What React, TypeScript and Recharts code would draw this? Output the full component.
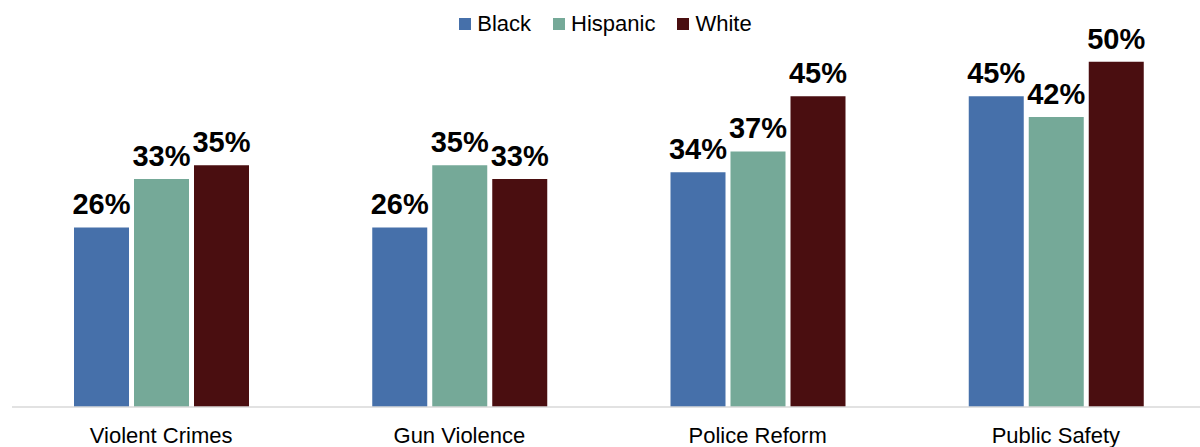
import { Bar, BarChart, LabelList, Legend, XAxis, YAxis } from 'recharts';

const CATEGORIES = ['Violent Crimes', 'Gun Violence', 'Police Reform', 'Public Safety'];
const BLACK = [26, 26, 34, 45];
const HISPANIC = [33, 35, 37, 42];
const WHITE = [35, 33, 45, 50];

const C_BLACK = '#4670aa';
const C_HISPANIC = '#75a998';
const C_WHITE = '#4a0e10';

const SERIES: [string, string][] = [
  ['Black', C_BLACK],
  ['Hispanic', C_HISPANIC],
  ['White', C_WHITE],
];

const data = CATEGORIES.map((name, i) => ({
  name,
  Black: BLACK[i],
  Hispanic: HISPANIC[i],
  White: WHITE[i],
}));

const FONT = 'Arial, "Liberation Sans", sans-serif';

const pct = (v: unknown) => `${v}%`;

// legend drawn by hand so spacing matches
function LegendRow() {
  return (
    <div
      style={{
        display: 'flex',
        justifyContent: 'center',
        alignItems: 'center',
        fontSize: 22,
        fontFamily: FONT,
        color: '#000',
        height: 26,
        paddingLeft: 16,
      }}
    >
      {SERIES.map(([name, color]) => (
        <span key={name} style={{ display: 'flex', alignItems: 'center', marginRight: 22 }}>
          <span style={{ width: 12, height: 12, background: color, marginRight: 6, display: 'inline-block' }} />
          {name}
        </span>
      ))}
    </div>
  );
}

export default function App() {
  return (
    <div style={{ position: 'absolute', left: 0, top: 0, width: 1200, height: 447, overflow: 'hidden', fontFamily: FONT }}>
      <BarChart
        width={1205}
        height={447}
        data={data}
        margin={{ top: 8, right: 0, left: 12, bottom: 0 }}
        barCategoryGap="20.7%"
        barGap={5}
      >
        <Legend verticalAlign="top" align="center" wrapperStyle={{ top: 11 }} content={() => <LegendRow />} />
        <XAxis
          dataKey="name"
          height={40}
          tickLine={false}
          tickSize={0}
          tickMargin={20}
          axisLine={{ stroke: '#d9d9d9', strokeWidth: 1.5 }}
          tick={{ fontSize: 22, fill: '#000', fontFamily: FONT }}
        />
        <YAxis hide domain={[0, 54]} />
        {SERIES.map(([key, color]) => (
          <Bar key={key} dataKey={key} fill={color} barSize={55} isAnimationActive={false}>
            <LabelList
              dataKey={key}
              position="top"
              offset={13}
              formatter={pct}
              style={{ fontSize: 29, fontWeight: 'bold', fill: '#000', fontFamily: FONT }}
            />
          </Bar>
        ))}
      </BarChart>
    </div>
  );
}
